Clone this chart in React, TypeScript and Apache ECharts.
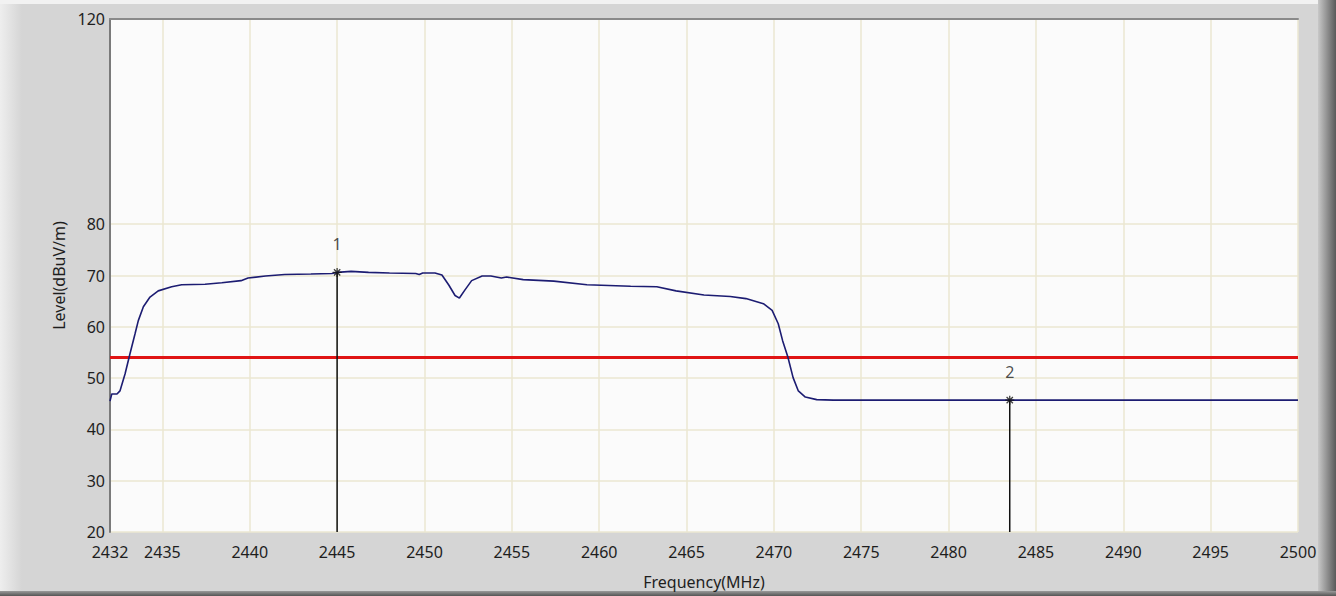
import React, { useEffect, useRef } from "react";
import * as echarts from "echarts";

const freqMHz = [
  2432.0, 2432.1, 2432.4, 2432.57, 2432.86, 2433.14, 2433.43, 2433.62, 2433.91, 2434.29,
  2434.76, 2435.53, 2436.1, 2437.44, 2438.4, 2439.5, 2439.9, 2440.9, 2442.0, 2443.5,
  2444.7, 2445.0, 2445.8, 2446.3, 2446.8, 2448.0, 2449.5, 2449.7, 2449.9, 2450.6,
  2451.0, 2451.4, 2451.75, 2452.0, 2452.3, 2452.7, 2453.3, 2453.8, 2454.4, 2454.7,
  2455.65, 2457.4, 2459.3, 2461.8, 2463.3, 2464.4, 2466.0, 2467.5, 2468.4, 2469.4,
  2469.9, 2470.25, 2470.5, 2470.8, 2471.1, 2471.4, 2471.8, 2472.45, 2473.4, 2483.5,
  2500.0,
];
const levelDbuV = [
  45.5, 46.9, 46.9, 47.5, 50.8, 54.7, 58.6, 61.2, 63.9, 65.8,
  67.0, 67.8, 68.2, 68.3, 68.6, 69.0, 69.5, 69.9, 70.2, 70.3,
  70.4, 70.6, 70.8, 70.7, 70.6, 70.5, 70.4, 70.2, 70.5, 70.5,
  70.1, 68.1, 66.1, 65.6, 67.1, 69.0, 69.9, 69.9, 69.5, 69.7,
  69.2, 68.9, 68.2, 67.9, 67.8, 67.0, 66.2, 65.9, 65.5, 64.5,
  63.2, 60.6, 57.3, 54.1, 50.1, 47.5, 46.3, 45.8, 45.7, 45.7,
  45.7,
];
const limitLevel = 54;
const markerNames = ["1", "2"];
const markerFreq = [2445, 2483.5];
const markerLevel = [70.6, 45.7];
const xTickValues = [2432, 2435, 2440, 2445, 2450, 2455, 2460, 2465, 2470, 2475, 2480, 2485, 2490, 2495, 2500];
const yTickValues = [20, 30, 40, 50, 60, 70, 80, 120];
const xMin = 2432;
const xMax = 2500;
const yMin = 20;
const yMax = 120;

const FONT = "Noto Sans";
const TEXT = "#1e1e1e";
const GRID = "#ebe7d2";

export default function App() {
  const ref = useRef<HTMLDivElement>(null);
  useEffect(() => {
    document.body.style.margin = "0";
    if (!ref.current) return;
    const chart = echarts.init(ref.current, undefined, { renderer: "svg" });
    const trace = freqMHz.map((f, i) => [f, levelDbuV[i]]);
    const markerLineSeries = markerFreq.map((f, i) => ({
      type: "line",
      data: [
        [f, yMin],
        [f, markerLevel[i]],
      ],
      showSymbol: false,
      silent: true,
      lineStyle: { color: "#111", width: 1.5 },
      z: 3,
    }));
    chart.setOption({
      animation: false,
      backgroundColor: "#d5d5d5",
      graphic: [
        {
          type: "rect",
          shape: { x: 0, y: 0, width: 22, height: 596 },
          style: {
            fill: new echarts.graphic.LinearGradient(0, 0, 1, 0, [
              { offset: 0, color: "#eeeeee" },
              { offset: 1, color: "#d5d5d5" },
            ]),
          },
          silent: true,
          z: -10,
        },
        {
          type: "rect",
          shape: { x: 0, y: 0, width: 1336, height: 4 },
          style: { fill: "#f2f2f2" },
          silent: true,
          z: -10,
        },
        {
          type: "rect",
          shape: { x: 1318, y: 0, width: 18, height: 596 },
          style: {
            fill: new echarts.graphic.LinearGradient(0, 0, 1, 0, [
              { offset: 0, color: "#c8c8c8" },
              { offset: 1, color: "#5a5a5a" },
            ]),
          },
          silent: true,
          z: -10,
        },
        {
          type: "rect",
          shape: { x: 0, y: 591, width: 1336, height: 5 },
          style: {
            fill: new echarts.graphic.LinearGradient(0, 0, 0, 1, [
              { offset: 0, color: "#9a9a9a" },
              { offset: 1, color: "#555555" },
            ]),
          },
          silent: true,
          z: -10,
        },
      ],
      grid: {
        left: 110,
        right: 38,
        top: 19,
        bottom: 64,
        show: true,
        backgroundColor: "#fbfbfb",
        borderWidth: 0,
      },
      xAxis: [
        {
          type: "value",
          min: xMin,
          max: xMax,
          name: "Frequency(MHz)",
          nameLocation: "middle",
          nameGap: 42,
          nameTextStyle: { fontFamily: FONT, fontSize: 16, color: TEXT },
          axisLine: { show: false },
          axisTick: { show: false, customValues: xTickValues },
          axisLabel: {
            customValues: xTickValues,
            formatter: (v: number) => String(v),
            fontFamily: FONT,
            fontSize: 16,
            color: TEXT,
            margin: 12,
          },
          splitLine: { show: true, lineStyle: { color: GRID, width: 1.5 } },
        },
        {
          type: "value",
          position: "top",
          min: xMin,
          max: xMax,
          axisLine: { show: true, onZero: false, lineStyle: { color: "#8a8a8a", width: 2 } },
          axisTick: { show: false },
          axisLabel: { show: false },
          splitLine: { show: false },
        },
      ],
      yAxis: {
        type: "value",
        min: yMin,
        max: yMax,
        interval: 10,
        name: "Level(dBuV/m)",
        nameLocation: "middle",
        nameGap: 40,
        nameTextStyle: { fontFamily: FONT, fontSize: 16, color: TEXT },
        axisLine: { show: true, lineStyle: { color: "#7a7a7a", width: 2 } },
        axisTick: { show: false, customValues: yTickValues },
        axisLabel: {
          customValues: yTickValues,
          fontFamily: FONT,
          fontSize: 16,
          color: TEXT,
          margin: 5,
        },
        splitLine: { show: true, lineStyle: { color: GRID, width: 1.5 } },
      },
      series: [
        {
          type: "line",
          data: [
            [xMin, limitLevel],
            [xMax, limitLevel],
          ],
          showSymbol: false,
          silent: true,
          lineStyle: { color: "#e01414", width: 3 },
          z: 2,
        },
        {
          type: "line",
          data: trace,
          showSymbol: false,
          silent: true,
          lineStyle: { color: "#1c1c72", width: 1.6 },
          z: 4,
        },
        ...markerLineSeries,
        {
          type: "scatter",
          data: markerFreq.map((f, i) => ({ value: [f, markerLevel[i]], name: markerNames[i] })),
          symbol: "path://M5,0L5,10M0,5L10,5M1.5,1.5L8.5,8.5M1.5,8.5L8.5,1.5",
          symbolSize: 9,
          itemStyle: { color: "transparent", borderColor: "#111", borderWidth: 1.3 },
          label: {
            show: true,
            position: "top",
            distance: 15,
            formatter: (p: any) => p.name,
            fontFamily: FONT,
            fontSize: 16,
            color: TEXT,
          },
          silent: true,
          z: 5,
        },
      ],
    });
    return () => chart.dispose();
  }, []);
  return <div ref={ref} style={{ width: 1336, height: 596 }} />;
}
